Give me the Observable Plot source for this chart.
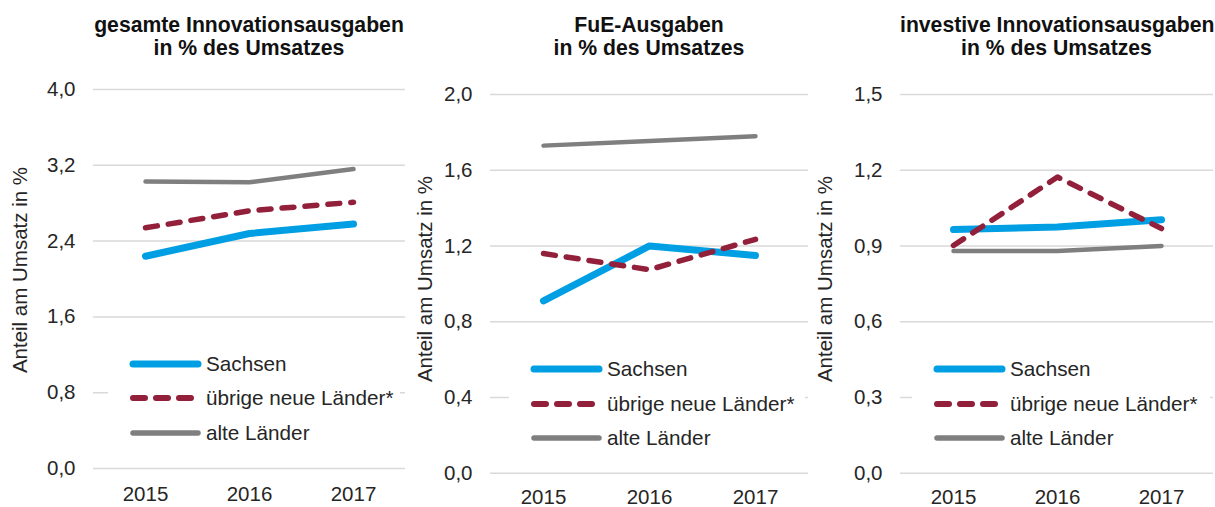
<!DOCTYPE html>
<html><head><meta charset="utf-8">
<script src="https://cdn.jsdelivr.net/npm/d3@7"></script>
<script src="https://cdn.jsdelivr.net/npm/@observablehq/plot@0.6"></script>
<style>
body{margin:0;background:#fff;font-family:"Liberation Sans",Arial,sans-serif;color:#262626;}
#wrap{position:relative;width:1215px;height:507px;overflow:hidden;}
.panel{position:absolute;top:0;width:405px;height:507px;}
.title{position:absolute;top:13.2px;font-weight:bold;font-size:21.2px;line-height:23.3px;text-align:center;color:#111;white-space:nowrap;}
.plot{position:absolute;top:60px;left:0;}
.ylab{position:absolute;font-size:20.5px;white-space:nowrap;transform:translate(-50%,-50%) rotate(-90deg);color:#262626;}
.legend{position:absolute;background:#fff;}
.row{position:absolute;left:0;height:34px;}
.row svg{position:absolute;left:0;top:0;}
.row span{position:absolute;font-size:20.7px;line-height:34px;top:0;white-space:nowrap;color:#262626;}
</style></head>
<body><div id="wrap"></div>
<script>
const years = ["2015","2016","2017"];
const series = ["Sachsen","übrige neue Länder*","alte Länder"];
const titles = [
  ["gesamte Innovationsausgaben","in % des Umsatzes"],
  ["FuE-Ausgaben","in % des Umsatzes"],
  ["investive Innovationsausgaben","in % des Umsatzes"]
];
const yLabel = "Anteil am Umsatz in %";
// values per panel: [Sachsen, übrige neue Länder*, alte Länder]
const gesamtSachsen = [2.24, 2.48, 2.58];
const gesamtUebrige = [2.54, 2.72, 2.81];
const gesamtAlte    = [3.03, 3.02, 3.16];
const fueSachsen = [0.91, 1.20, 1.15];
const fueUebrige = [1.16, 1.075, 1.235];
const fueAlte    = [1.73, 1.755, 1.78];
const invSachsen = [0.965, 0.975, 1.004];
const invUebrige = [0.902, 1.173, 0.969];
const invAlte    = [0.88, 0.88, 0.90];
const ticks1 = [0, 0.8, 1.6, 2.4, 3.2, 4.0];
const ticks2 = [0, 0.4, 0.8, 1.2, 1.6, 2.0];
const ticks3 = [0, 0.3, 0.6, 0.9, 1.2, 1.5];

const colors = ["#009fe3", "#93203a", "#7f7f7f"];
const widths = [7, 5.5, 4.5];
const legWidths = [7, 6, 5.5];
const dashes = [null, "12,11", null];
const fmt = d => d3.format(".1f")(d).replace(".", ",");

const panels = [
  {left:0, values:[gesamtSachsen,gesamtUebrige,gesamtAlte], ticks:ticks1, ml:93, mr:0, mt:29, mb:39, xpad:18,
   ylx:20, yly:270, leg:{x:108, y:345, sw:130, tx:206, rows:[364,398,433]}},
  {left:405, values:[fueSachsen,fueUebrige,fueAlte], ticks:ticks2, ml:85, mr:2, mt:34, mb:34.3, xpad:16,
   ylx:20, yly:279, leg:{x:104, y:350, sw:126, tx:202, rows:[369,404,438]}},
  {left:810, values:[invSachsen,invUebrige,invAlte], ticks:ticks3, ml:90, mr:2, mt:34, mb:34.3, xpad:16,
   ylx:15, yly:279, leg:{x:102, y:350, sw:124, tx:200, rows:[369,404,438]}}
];

const wrap = document.getElementById("wrap");
panels.forEach((p, pi) => {
  const div = document.createElement("div");
  div.className = "panel";
  div.style.left = p.left + "px";
  wrap.appendChild(div);

  const t = document.createElement("div");
  t.className = "title";
  t.style.left = p.ml + "px";
  t.style.width = (405 - p.ml - p.mr) + "px";
  t.innerHTML = titles[pi].join("<br>");
  div.appendChild(t);

  const data = [];
  series.forEach((s, i) => years.forEach((y, j) => data.push({series: s, year: y, value: p.values[i][j]})));
  const maxY = p.ticks[p.ticks.length - 1];
  const order = [2, 0, 1];
  const plot = Plot.plot({
    width: 405, height: 447,
    marginTop: p.mt, marginBottom: p.mb, marginLeft: p.ml, marginRight: p.mr,
    style: {fontFamily: "'Liberation Sans', Arial, sans-serif", fontSize: "20.5px", color: "#262626", background: "transparent", overflow: "visible"},
    x: {type: "point", domain: years, padding: 0.5, label: null},
    y: {domain: [0, maxY], label: null},
    marks: [
      Plot.gridY(p.ticks, {stroke: "#d9d9d9", strokeOpacity: 1, strokeWidth: 1.5}),
      Plot.axisY(p.ticks, {tickSize: 0, tickPadding: 18, tickFormat: fmt, label: null}),
      Plot.axisX({tickSize: 0, tickPadding: p.xpad, label: null}),
      ...order.map(i => Plot.line(data.filter(d => d.series === series[i]), {
        x: "year", y: "value", stroke: colors[i], strokeWidth: widths[i],
        strokeDasharray: dashes[i] || undefined, strokeLinecap: "round", strokeLinejoin: "round"
      }))
    ]
  });
  plot.classList.add("plot");
  div.appendChild(plot);

  const yl = document.createElement("div");
  yl.className = "ylab";
  yl.style.left = p.ylx + "px";
  yl.style.top = p.yly + "px";
  yl.textContent = yLabel;
  div.appendChild(yl);

  const L = p.leg;
  const lg = document.createElement("div");
  lg.className = "legend";
  lg.style.left = L.x + "px";
  lg.style.top = L.y + "px";
  lg.style.width = (400 - L.x) + "px";
  lg.style.height = "105px";
  div.appendChild(lg);
  series.forEach((s, i) => {
    const r = document.createElement("div");
    r.className = "row";
    r.style.top = (L.rows[i] - 17 - L.y) + "px";
    r.style.width = (400 - L.x) + "px";
    const sx = L.sw - L.x;
    const dash = dashes[i] ? ` stroke-dasharray="${dashes[i]}"` : "";
    r.innerHTML = `<svg width="${sx + 80}" height="34"><line x1="${sx + 3}" x2="${sx + 68}" y1="17" y2="17" stroke="${colors[i]}" stroke-width="${legWidths[i]}" stroke-linecap="round"${dash}/></svg><span style="left:${L.tx - L.x}px">${s}</span>`;
    lg.appendChild(r);
  });
});
</script>
</body></html>
